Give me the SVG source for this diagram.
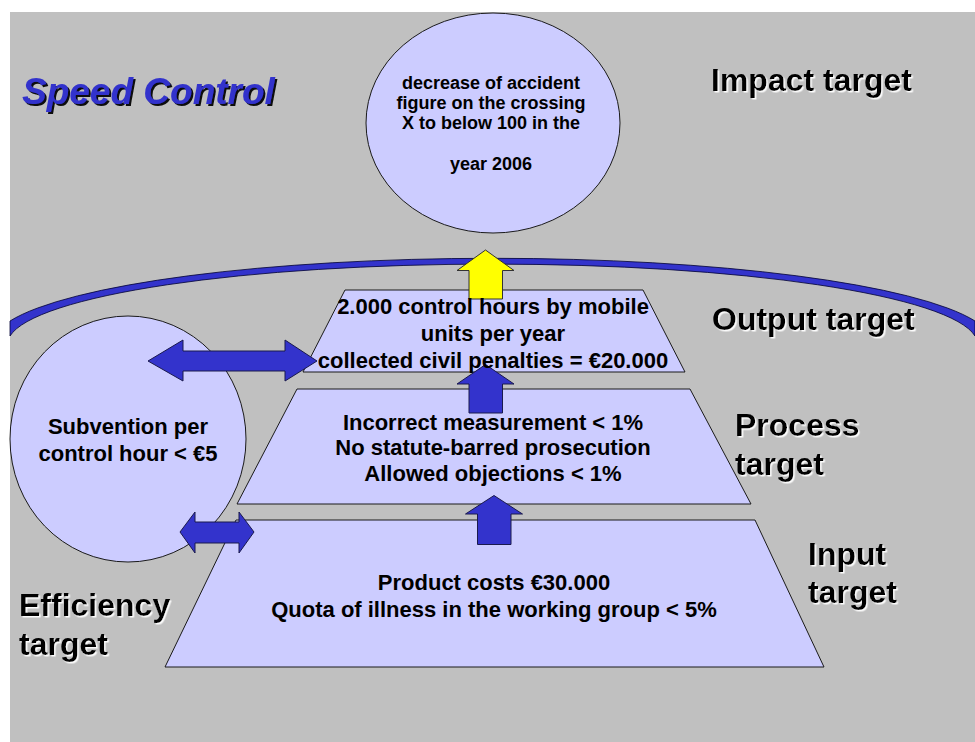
<svg xmlns="http://www.w3.org/2000/svg" width="975" height="742" viewBox="0 0 975 742">
  <style>
    .shape { fill: #CCCCFF; stroke: #1a1a1a; stroke-width: 1; }
    .node-text { font-family: "Liberation Sans", Arial, sans-serif; font-weight: bold; fill: #000; text-anchor: middle; }
    .t18 { font-size: 18px; }
    .t22 { font-size: 22px; }
    .label { font-family: "Liberation Sans", Arial, sans-serif; font-weight: bold; font-size: 32px; fill: #000; filter: url(#wshadow); }
    .arrow-blue { fill: #3333CC; stroke: #1a1a4d; stroke-width: 1; }
    .arrow-yellow { fill: #FFFF00; stroke: #333333; stroke-width: 1; }
  </style>
  <defs>
    <filter id="wshadow" x="-5%" y="-20%" width="115%" height="150%">
      <feDropShadow dx="1.5" dy="1.5" stdDeviation="0.3" flood-color="#FFFFFF" flood-opacity="0.95"/>
    </filter>
    <filter id="dshadow" x="-5%" y="-20%" width="115%" height="150%">
      <feDropShadow dx="2" dy="2" stdDeviation="0.4" flood-color="#111111" flood-opacity="1"/>
    </filter>
  </defs>

  <rect x="0" y="0" width="975" height="742" fill="#FFFFFF"/>
  <rect x="10" y="12" width="965" height="730" fill="#C0C0C0"/>

  <g id="boundary-arc">
    <path d="M 10 321 A 500 85 0 0 1 975 321 L 975 336 A 485 80 0 0 0 10 336 Z" fill="#3333CC" stroke="#000033" stroke-width="0.8"/>
  </g>

  <text x="22" y="104" font-family="'Liberation Sans', Arial, sans-serif" font-weight="bold" font-style="italic" font-size="37" fill="#3333CC" filter="url(#dshadow)">Speed Control</text>

  <g id="impact-node">
    <ellipse class="shape" cx="493" cy="123" rx="127" ry="110"/>
    <text class="node-text t18" x="491" y="88.5">decrease of accident</text>
    <text class="node-text t18" x="491" y="108.5">figure on the crossing</text>
    <text class="node-text t18" x="491" y="128.5">X to below 100 in the</text>
    <text class="node-text t18" x="491" y="170">year 2006</text>
  </g>

  <g id="efficiency-node">
    <ellipse class="shape" cx="128" cy="439" rx="118" ry="123"/>
    <text class="node-text t22" x="128" y="434">Subvention per</text>
    <text class="node-text t22" x="128" y="461">control hour &lt; €5</text>
  </g>

  <g id="input-node">
    <polygon class="shape" points="236,520 755,520 824,667 165,667"/>
  </g>
  <g id="process-node">
    <polygon class="shape" points="297,389 690,389 751,504 237,504"/>
  </g>
  <g id="output-node">
    <polygon class="shape" points="345,290 643,290 685,372 303,372"/>
  </g>

  <g id="connectors">
    <polygon class="arrow-blue" points="148,361 183,340 183,351 285,351 285,340 317,361 285,381 285,371 183,371 183,381"/>
    <polygon class="arrow-blue" points="180,532 195,512 195,522 239,522 239,512 254,532 239,553 239,543 195,543 195,553"/>
    <polygon class="arrow-yellow" points="485.5,250 514,270.5 502.5,270.5 502.5,299 469,299 469,270.5 457,270.5"/>
    <polygon class="arrow-blue" points="485.5,364.5 514,384 502.5,384 502.5,413 469,413 469,384 457,384"/>
    <polygon class="arrow-blue" points="494,495.5 522.5,514 511,514 511,544.5 477.5,544.5 477.5,514 465.5,514"/>
  </g>

  <g id="output-text">
    <text class="node-text t22" x="493" y="314">2.000 control hours by mobile</text>
    <text class="node-text t22" x="493" y="341">units per year</text>
    <text class="node-text t22" x="493" y="367.5">collected civil penalties = €20.000</text>
  </g>
  <g id="process-text">
    <text class="node-text t22" x="493" y="429.5">Incorrect measurement &lt; 1%</text>
    <text class="node-text t22" x="493" y="455">No statute-barred prosecution</text>
    <text class="node-text t22" x="493" y="480.5">Allowed objections &lt; 1%</text>
  </g>
  <g id="input-text">
    <text class="node-text t22" x="494" y="590">Product costs €30.000</text>
    <text class="node-text t22" x="494" y="617">Quota of illness in the working group &lt; 5%</text>
  </g>

  <g id="labels">
    <text class="label" x="711" y="91">Impact target</text>
    <text class="label" x="712" y="330">Output target</text>
    <text class="label" x="735" y="436">Process</text>
    <text class="label" x="735" y="475">target</text>
    <text class="label" x="808" y="565">Input</text>
    <text class="label" x="808" y="603">target</text>
    <text class="label" x="19" y="616">Efficiency</text>
    <text class="label" x="19" y="655">target</text>
  </g>
</svg>
